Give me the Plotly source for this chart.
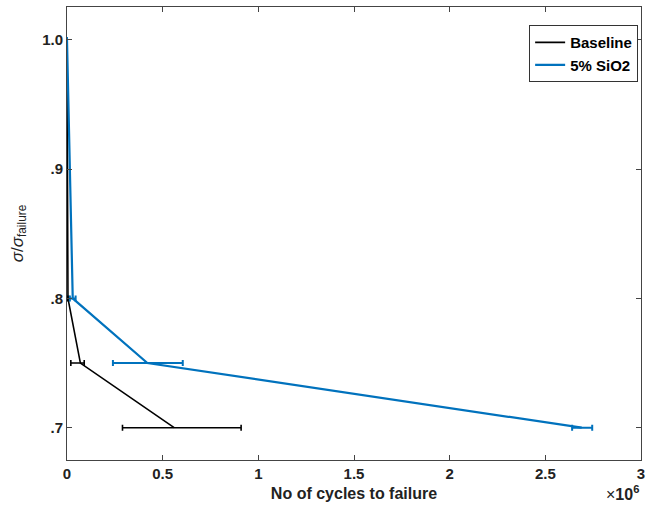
import plotly.graph_objects as go

stress_ratio = [1.0, 0.8, 0.75, 0.7]
baseline_cycles = [0, 5000, 70000, 560000]
baseline_err_plus = [0, 3000, 20000, 350000]
baseline_err_minus = [0, 3000, 50000, 270000]
sio2_cycles = [0, 30000, 420000, 2690000]
sio2_err_plus = [0, 15000, 185000, 55000]
sio2_err_minus = [0, 15000, 180000, 50000]

x_tickvals = [0, 0.5e6, 1e6, 1.5e6, 2e6, 2.5e6, 3e6]
x_ticktext = ["0", "0.5", "1", "1.5", "2", "2.5", "3"]
y_tickvals = [0.7, 0.8, 0.9, 1.0]
y_ticktext = [".7", ".8", ".9", "1.0"]

font = "Liberation Sans, Arial, sans-serif"

fig = go.Figure()
fig.add_trace(go.Scatter(
    x=baseline_cycles, y=stress_ratio, mode="lines", name="Baseline",
    line=dict(color="black", width=1.6),
    error_x=dict(type="data", symmetric=False, array=baseline_err_plus,
                 arrayminus=baseline_err_minus, color="black", thickness=1.6, width=3),
))
fig.add_trace(go.Scatter(
    x=sio2_cycles, y=stress_ratio, mode="lines", name="5% SiO2",
    line=dict(color="#0072BD", width=2.2),
    error_x=dict(type="data", symmetric=False, array=sio2_err_plus,
                 arrayminus=sio2_err_minus, color="#0072BD", thickness=2, width=3),
))

fig.update_layout(
    width=647, height=513,
    margin=dict(l=67, r=6, t=7, b=53, autoexpand=False),
    paper_bgcolor="white", plot_bgcolor="white",
    font=dict(family=font, color="#222", size=15),
    showlegend=True,
    legend=dict(x=0.995, y=0.96, xanchor="right", yanchor="top",
                bgcolor="white", bordercolor="#333", borderwidth=1,
                font=dict(family=font, size=15, color="black", weight="bold"),
                tracegroupgap=0, itemwidth=30),
)
fig.update_xaxes(
    range=[0, 3e6], tickvals=x_tickvals, ticktext=x_ticktext, automargin=False,
    ticks="inside", ticklen=5, tickcolor="#444", mirror="ticks",
    showline=True, linecolor="#444", linewidth=1, showgrid=False, zeroline=False,
    tickfont=dict(family=font, size=15, color="#222", weight="bold"),
    title=dict(text="<b>No of cycles to failure</b>", font=dict(family=font, size=16, color="#222"), standoff=6),
)
fig.update_yaxes(
    range=[0.675, 1.0255], tickvals=y_tickvals, ticktext=y_ticktext, automargin=False,
    ticks="inside", ticklen=5, tickcolor="#444", mirror="ticks",
    showline=True, linecolor="#444", linewidth=1, showgrid=False, zeroline=False,
    tickfont=dict(family=font, size=15, color="#222", weight="bold"),
    title=dict(text="<i>σ</i>/<i>σ</i><sub>failure</sub>", font=dict(family=font, size=17, color="#222"), standoff=14),
)
fig.add_annotation(
    text="×<b>10<sup>6</sup></b>", xref="paper", yref="paper", x=1.0, y=-0.072,
    xanchor="right", yanchor="middle", showarrow=False,
    font=dict(family=font, size=16, color="#222"),
)

fig.write_html("out.html", config={"displayModeBar": False},
               post_script="document.body.style.margin='0';document.body.style.padding='0';")
